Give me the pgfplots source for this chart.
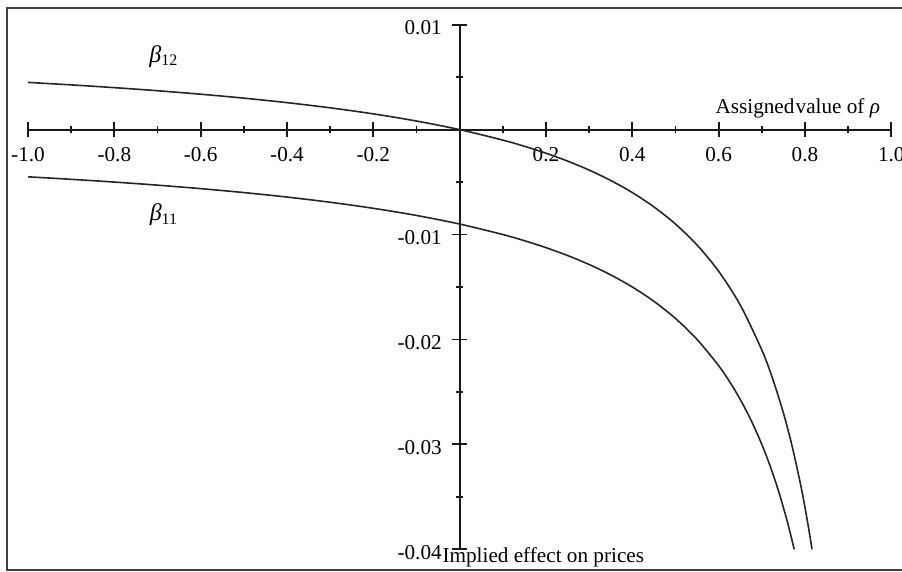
\documentclass[border=0pt]{standalone}
\usepackage{pgfplots}
\pgfplotsset{compat=1.18}
\usepackage{fontspec}
\setmainfont{Liberation Serif}
\newcommand{\f}{\fontsize{10.6pt}{12.5pt}\selectfont}
\newcommand{\fb}{\fontsize{12pt}{14pt}\selectfont}
\pgfplotstableread{
x y
-1.0 0.004500
-0.9 0.004263
-0.8 0.004000
-0.7 0.003706
-0.6 0.003375
-0.5 0.003000
-0.4 0.002571
-0.3 0.002077
-0.2 0.001500
-0.1 0.000818
0.0 0.000000
0.1 -0.001000
0.15 -0.001588
0.2 -0.002250
0.25 -0.003000
0.3 -0.003857
0.35 -0.004846
0.4 -0.006000
0.45 -0.007364
0.5 -0.009000
0.55 -0.011000
0.6 -0.013500
0.65 -0.016714
0.7 -0.021000
0.725 -0.023727
0.75 -0.027000
0.77 -0.030130
0.79 -0.033857
0.80 -0.036000
0.81 -0.038368
0.8163 -0.040000
}\betatwelve
\pgfplotstableread{
x y
-1.0 -0.004500
-0.9 -0.004737
-0.8 -0.005000
-0.7 -0.005294
-0.6 -0.005625
-0.5 -0.006000
-0.4 -0.006429
-0.3 -0.006923
-0.2 -0.007500
-0.1 -0.008182
0.0 -0.009000
0.1 -0.010000
0.15 -0.010588
0.2 -0.011250
0.25 -0.012000
0.3 -0.012857
0.35 -0.013846
0.4 -0.015000
0.45 -0.016364
0.5 -0.018000
0.55 -0.020000
0.6 -0.022500
0.625 -0.024000
0.65 -0.025714
0.675 -0.027692
0.7 -0.030000
0.72 -0.032143
0.74 -0.034615
0.76 -0.037500
0.775 -0.040000
}\betaeleven
\begin{document}
\begin{tikzpicture}
\begin{axis}[
  at={(14pt,11.35pt)}, anchor=south west,
  scale only axis, width=431.65pt, height=262.3pt,
  xmin=-1, xmax=1, ymin=-0.04, ymax=0.01,
  enlargelimits=false, clip=false,
  axis lines=middle, axis line style={-, line width=1pt, black!90},
  xtick={-1,-0.8,-0.6,-0.4,-0.2,0.2,0.4,0.6,0.8,1},
  xticklabels={-1.0,-0.8,-0.6,-0.4,-0.2,0.2,0.4,0.6,0.8,1.0},
  minor xtick={-0.9,-0.7,-0.5,-0.3,-0.1,0.1,0.3,0.5,0.7,0.9},
  ytick={-0.04,-0.03,-0.02,-0.01,0.01},
  yticklabels={-0.04,-0.03,-0.02,-0.01,0.01},
  minor ytick={-0.035,-0.025,-0.015,-0.005,0.005},
  scaled ticks=false,
  tick align=center,
  major tick length=7.5pt, minor tick length=3.5pt,
  every tick/.style={black!90, line width=0.9pt},
  xticklabel style={font=\f, anchor=north, inner sep=0pt, yshift=-5pt},
  yticklabel style={font=\f, anchor=east, inner sep=0pt, xshift=-5pt, yshift=-1.5pt},
]
\addplot[smooth, black!85, line width=0.8pt] table[x=x,y=y] {\betatwelve};
\addplot[smooth, black!85, line width=0.8pt] table[x=x,y=y] {\betaeleven};
\node[font=\fb] at (axis cs:-0.685,0.0070) {\textit{β}\textsubscript{12}};
\node[font=\fb] at (axis cs:-0.685,-0.00814) {\textit{β}\textsubscript{11}};
\node[font=\f, anchor=base west, inner sep=0pt] at (axis cs:0.592,0.00157) {Assigned\kern0.6pt value of \textit{ρ}};
\node[font=\f, anchor=base west, inner sep=0pt] at (axis cs:-0.0405,-0.0413) {Implied effect on prices};
\end{axis}
\draw[black!75, line width=1pt] (3.5pt,1pt) rectangle (460pt,282pt);
\pgfresetboundingbox
\useasboundingbox (0,0) rectangle (451pt,286pt);
\end{tikzpicture}
\end{document}
